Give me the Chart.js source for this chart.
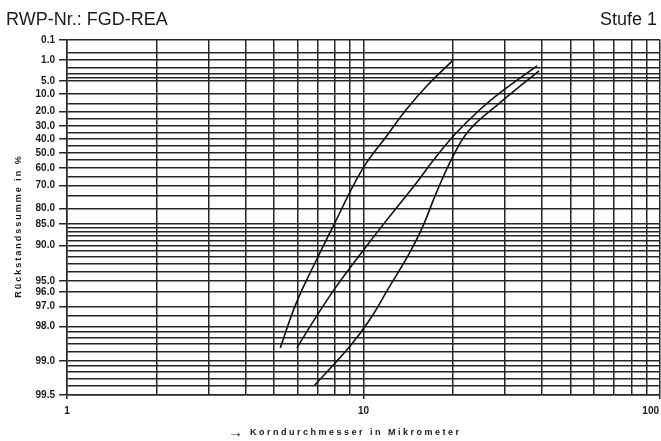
<!DOCTYPE html>
<html>
<head>
<meta charset="utf-8">
<script src="https://cdn.jsdelivr.net/npm/chart.js@4.4.1/dist/chart.umd.min.js"></script>
<style>
  html, body { margin: 0; padding: 0; background: #fff; }
  #wrap { width: 661px; height: 441px; }
</style>
</head>
<body>
<div id="wrap"><canvas id="c" width="661" height="441"></canvas></div>
<script>
// Particle size (µm) and cumulative residue (%) for the three measured curves
const sizesA   = [5.24, 5.93, 6.93, 8.09, 9.20, 10.2, 11.92, 13.9, 16.26, 20.1];
const residueA = [98.7, 96.8, 92.5, 83.8, 70.6, 57.1, 38.1, 19.0, 6.95, 1.0];

const sizesB   = [5.96, 6.93, 8.09, 10.2, 12.23, 15.05, 17.57, 20.5, 24.6, 28.7, 38.5];
const residueB = [98.7, 97.56, 95.55, 90.24, 82.77, 68.8, 52.7, 35.6, 19.0, 9.7, 1.7];

const sizesC   = [6.84, 8.97, 10.48, 12.23, 14.29, 15.84, 17.57, 20.0, 22.75, 28.7, 39.1];
const residueC = [99.39, 98.67, 97.72, 95.55, 91.4, 85.7, 73.75, 52.7, 33.1, 14.9, 2.5];

// RRSB grid: residue lines and the labelled subset
const yGridValues = [0.1, 0.5, 1, 2, 3, 4, 5, 10, 15, 20, 25, 30, 35, 40, 45, 50, 55, 60, 65, 70, 75,
  80, 85, 86, 87, 88, 89, 90, 91, 92, 93, 94, 95, 96, 97, 97.5, 98, 98.2, 98.4, 98.6, 98.8,
  99, 99.1, 99.2, 99.3, 99.4, 99.5];
const yLabelValues = [0.1, 1, 5, 10, 20, 30, 40, 50, 60, 70, 80, 85, 90, 95, 96, 97, 98, 99, 99.5];

// Logarithmic size grid and its labels
const xGridValues = [1, 2, 3, 4, 5, 6, 7, 8, 9, 10, 20, 30, 40, 50, 60, 70, 80, 90, 100];
const xLabelValues = [1, 10, 100];

const titleLeft = 'RWP-Nr.: FGD-REA';
const titleRight = 'Stufe 1';
const xArrow = '\u2192';
const xTitle = 'Korndurchmesser in Mikrometer';
const yTitle = 'R\u00fcckstandssumme in %';

const GRID = '#262626';
const FONT = '"Liberation Sans", Arial, Helvetica, sans-serif';

// Rosin-Rammler-Sperling-Bennett transform: log10(ln(100 / R))
function rrsb(r) { return Math.log10(Math.log(100 / r)); }

class RRSBScale extends Chart.LinearScale {
  determineDataLimits() {
    this.min = this.options.min;
    this.max = this.options.max;
  }
  buildTicks() {
    return yGridValues.map(v => ({ value: v }));
  }
  getPixelForValue(value) {
    const lo = rrsb(this.max), hi = rrsb(this.min);
    return this.getPixelForDecimal((rrsb(value) - lo) / (hi - lo));
  }
  getValueForPixel(pixel) {
    const lo = rrsb(this.max), hi = rrsb(this.min);
    const f = lo + this.getDecimalForPixel(pixel) * (hi - lo);
    return 100 * Math.exp(-Math.pow(10, f));
  }
}
RRSBScale.id = 'rrsb';
RRSBScale.defaults = {};
Chart.register(RRSBScale);

function toPoints(xs, ys) { return xs.map((x, i) => ({ x: x, y: ys[i] })); }

function curve(xs, ys) {
  return {
    data: toPoints(xs, ys),
    borderColor: '#111',
    borderWidth: 1.6,
    pointRadius: 0,
    fill: false,
    tension: 0.4
  };
}

const texts = {
  id: 'texts',
  beforeDraw(chart) {
    const ctx = chart.ctx;
    ctx.save();
    ctx.fillStyle = '#fff';
    ctx.fillRect(0, 0, chart.width, chart.height);
    ctx.restore();
  },
  afterDraw(chart) {
    const ctx = chart.ctx;
    const xs = chart.scales.x;
    const area = chart.chartArea;
    ctx.save();
    ctx.fillStyle = '#1a1a1a';

    // headings
    ctx.font = '18px ' + FONT;
    ctx.textBaseline = 'alphabetic';
    ctx.textAlign = 'left';
    ctx.fillText(titleLeft, 6, 25);
    ctx.textAlign = 'right';
    ctx.fillText(titleRight, 657, 25);

    // size labels under the grid
    ctx.font = 'bold 10px ' + FONT;
    ctx.textAlign = 'center';
    ctx.textBaseline = 'middle';
    xLabelValues.forEach(v => {
      const w = ctx.measureText(String(v)).width;
      let px = xs.getPixelForValue(v);
      px = Math.min(px, chart.width - w / 2 - 2);
      ctx.fillText(String(v), px, area.bottom + 16);
    });

    // axis titles, letter-spaced
    ctx.textAlign = 'left';
    ctx.font = 'bold 15px ' + FONT;
    ctx.fillText(xArrow, 228, 433);
    ctx.font = 'bold 9px ' + FONT;
    ctx.letterSpacing = '2.5px';
    ctx.fillText(xTitle, 250, 433);

    ctx.letterSpacing = '2px';
    ctx.textAlign = 'center';
    ctx.translate(19, 226);
    ctx.rotate(-Math.PI / 2);
    ctx.fillText(yTitle, 0, 0);
    ctx.restore();
  }
};

new Chart(document.getElementById('c'), {
  type: 'line',
  data: {
    datasets: [curve(sizesA, residueA), curve(sizesB, residueB), curve(sizesC, residueC)]
  },
  options: {
    responsive: false,
    animation: false,
    devicePixelRatio: 1,
    layout: { padding: { top: 40, right: 1, left: 0, bottom: 0 } },
    plugins: { legend: { display: false }, tooltip: { enabled: false } },
    scales: {
      x: {
        type: 'logarithmic',
        min: 1,
        max: 100,
        afterBuildTicks: s => { s.ticks = xGridValues.map(v => ({ value: v })); },
        afterFit: s => { s.height = 46; },
        ticks: { display: false },
        grid: {
          color: GRID,
          lineWidth: 1.5,
          drawTicks: true,
          tickLength: 4,
          tickColor: c => (c.tick && xLabelValues.includes(c.tick.value)) ? GRID : 'rgba(0,0,0,0)'
        },
        border: { display: true, color: GRID, width: 1.5 }
      },
      y: {
        type: 'rrsb',
        position: 'left',
        min: 0.1,
        max: 99.5,
        afterFit: s => { s.width = 67; },
        ticks: {
          autoSkip: false,
          padding: 4,
          color: '#1a1a1a',
          font: { family: FONT, size: 10, weight: 'bold' },
          callback: v => yLabelValues.includes(v) ? v.toFixed(1) : ''
        },
        grid: {
          color: GRID,
          lineWidth: 1.5,
          tickLength: 8,
          tickColor: c => (c.tick && yLabelValues.includes(c.tick.value)) ? GRID : 'rgba(0,0,0,0)'
        },
        border: { display: true, color: GRID, width: 1.5 }
      }
    }
  },
  plugins: [texts]
});
</script>
</body>
</html>
